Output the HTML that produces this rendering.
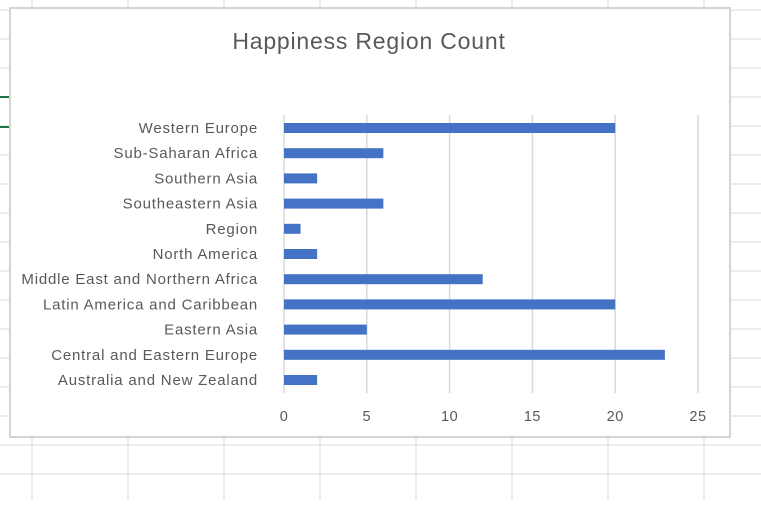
<!DOCTYPE html>
<html><head><meta charset="utf-8"><style>
body{margin:0;width:761px;height:500px;overflow:hidden;background:#fff;font-family:"Liberation Sans",sans-serif;}
</style></head><body>
<svg width="761" height="500">
<g id="sheet"></g>
<rect x="10" y="8" width="720" height="429" fill="#fff" stroke="#d4d4d4" stroke-width="2"/>
<text x="369" y="49" text-anchor="middle" font-size="23" letter-spacing="0.8" fill="#595959">Happiness Region Count</text>
<g id="plot"></g>
</svg>
<script>
const categories=["Western Europe","Sub-Saharan Africa","Southern Asia","Southeastern Asia","Region","North America","Middle East and Northern Africa","Latin America and Caribbean","Eastern Asia","Central and Eastern Europe","Australia and New Zealand"];
const counts=[20,6,2,6,1,2,12,20,5,23,2];
const ticks=[0,5,10,15,20,25];
const NS="http://www.w3.org/2000/svg";
function mk(p,t,a){const e=document.createElementNS(NS,t);for(const k in a)e.setAttribute(k,a[k]);p.appendChild(e);return e;}
const sheet=document.getElementById('sheet');
for(let x=32;x<761;x+=96){const l=mk(sheet,'line',{x1:x,y1:0,x2:x,y2:500,stroke:'#d9d9d9'});

}
for(let y=10;y<500;y+=29){const l=mk(sheet,'line',{x1:0,y1:y,x2:761,y2:y,stroke:'#d9d9d9'});

}
mk(sheet,'line',{x1:0,y1:97,x2:10,y2:97,stroke:'#217346','stroke-width':2});
mk(sheet,'line',{x1:0,y1:127,x2:10,y2:127,stroke:'#217346','stroke-width':2});
const plot=document.getElementById('plot');
const x=v=>284+v*(698-284)/25;
const y=i=>128+i*(380-128)/(categories.length-1);
ticks.forEach(t=>{
const g=mk(plot,'line',{x1:x(t),y1:115,x2:x(t),y2:393,stroke:'#d9d9d9','stroke-width':1.5});


const tx=mk(plot,'text',{x:x(t),y:421,'text-anchor':'middle','font-size':14.5,'letter-spacing':0.5,fill:'#595959'});tx.textContent=t;


});
categories.forEach((c,i)=>{
const tx=mk(plot,'text',{x:258,y:y(i)+5,'text-anchor':'end','font-size':15,'letter-spacing':0.8,fill:'#595959'});tx.textContent=c;


const b=mk(plot,'rect',{x:x(0),y:y(i)-5,width:x(counts[i])-x(0),height:10,fill:'#4472c4'});


});
</script>
</body></html>
